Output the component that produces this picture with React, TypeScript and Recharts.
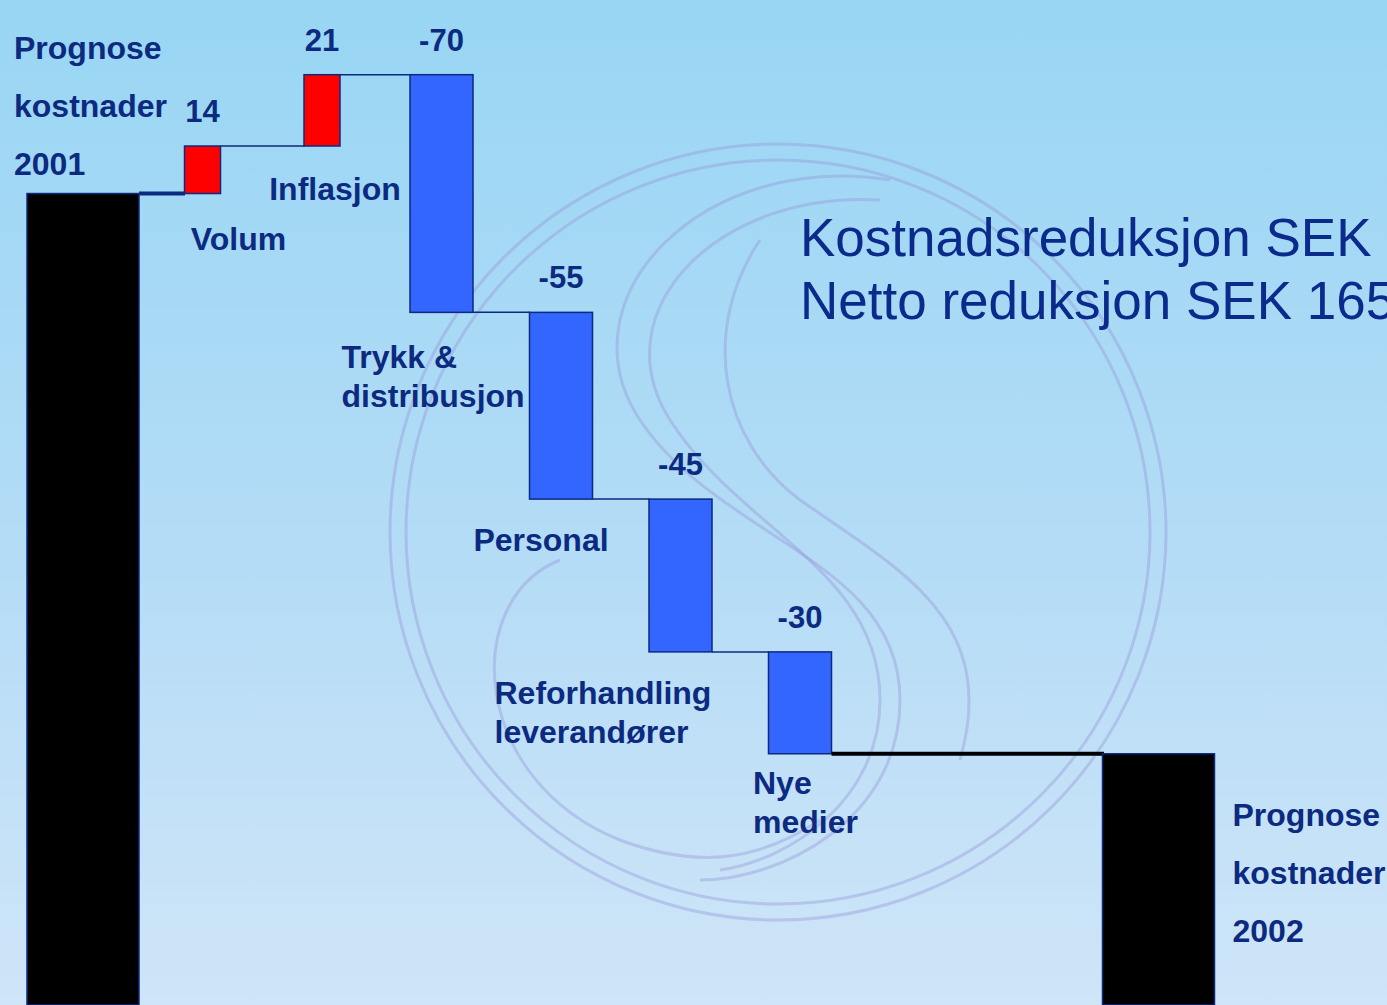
import React from "react";
import { Bar, BarChart, LabelList, XAxis, YAxis } from "recharts";

const colors = {
  navy: "#0b2a80",
  title: "#0a2a8c",
  up: "#ff0000",
  down: "#3366ff",
  total: "#000000",
  ring: "rgba(150, 150, 215, 0.4)",
};

// values
const startTotal = 239; // not printed
const stepNames = [
  "Volum",
  "Inflasjon",
  "Trykk &\ndistribusjon",
  "Personal",
  "Reforhandling\nleverandører",
  "Nye\nmedier",
];
const stepValues = [14, 21, -70, -55, -45, -30];
const totalNames = ["Prognose\nkostnader\n2001", "Prognose\nkostnader\n2002"];
const gapSlots = 2;
const titleLines = ["Kostnadsreduksjon SEK 200", "Netto reduksjon SEK 165"];

type Kind = "total" | "up" | "down" | "gap";
interface Row {
  name: string;
  kind: Kind;
  delta?: number;
  range: [number, number] | null;
}

const rows: Row[] = [];
rows.push({ name: totalNames[0], kind: "total", range: [0, startTotal] });
let level = startTotal;
stepValues.forEach((v, i) => {
  rows.push({
    name: stepNames[i],
    kind: v > 0 ? "up" : "down",
    delta: v,
    range: [Math.min(level, level + v), Math.max(level, level + v)],
  });
  level += v;
});
for (let k = 0; k < gapSlots; k++) rows.push({ name: `gap${k}`, kind: "gap", range: null });
rows.push({ name: totalNames[1], kind: "total", range: [0, level] });

const barWidths: Record<Kind, number> = { total: 112, up: 36, down: 63, gap: 0 };

// where each category caption sits relative to its bar
const captionPlacement: Record<string, { anchor: string; dx: number; from: "top" | "bottom"; dy: number; lineGap: number }> = {
  [totalNames[0]]: { anchor: "start", dx: -69, from: "top", dy: -135, lineGap: 58 },
  [totalNames[1]]: { anchor: "start", dx: 74, from: "top", dy: 72, lineGap: 58 },
  Volum: { anchor: "middle", dx: 36, from: "bottom", dy: 56, lineGap: 39 },
  Inflasjon: { anchor: "middle", dx: 13, from: "bottom", dy: 54, lineGap: 39 },
  "Trykk &\ndistribusjon": { anchor: "start", dx: -100, from: "bottom", dy: 56, lineGap: 39 },
  Personal: { anchor: "middle", dx: -20, from: "bottom", dy: 52, lineGap: 39 },
  "Reforhandling\nleverandører": { anchor: "start", dx: -186, from: "bottom", dy: 52, lineGap: 39 },
  "Nye\nmedier": { anchor: "start", dx: -47, from: "bottom", dy: 40, lineGap: 39 },
};

const font = "'Liberation Sans', Arial, sans-serif";

function WaterfallBar(props: any) {
  const { x, y, width, height, payload } = props;
  if (!payload || payload.kind === "gap" || height == null) return null;
  const index = rows.findIndex((r) => r.name === payload.name);
  const cx = x + width / 2;
  const w = barWidths[payload.kind as Kind];
  let j = index + 1;
  while (j < rows.length && rows[j].kind === "gap") j++;
  let connector = null;
  if (j < rows.length) {
    const next = rows[j];
    const ly = payload.kind === "down" ? y + height : y;
    const thick = payload.kind === "total" || next.kind === "total";
    connector = (
      <line
        x1={cx + w / 2}
        x2={cx + (j - index) * width - barWidths[next.kind] / 2}
        y1={ly}
        y2={ly}
        stroke={next.kind === "total" ? "#000" : colors.navy}
        strokeWidth={thick ? 4 : 1.5}
      />
    );
  }
  return (
    <g>
      <rect
        x={cx - w / 2}
        y={y}
        width={w}
        height={height}
        fill={colors[payload.kind as "total" | "up" | "down"]}
        stroke={colors.navy}
        strokeWidth={1.5}
      />
      {connector}
    </g>
  );
}

function boxOf(props: any) {
  const vb = props.viewBox || {};
  return {
    x: props.x ?? vb.x,
    y: props.y ?? vb.y,
    width: props.width ?? vb.width,
    height: props.height ?? vb.height,
  };
}

function ValueLabel(props: any) {
  const { value } = props;
  if (value == null) return null;
  const b = boxOf(props);
  return (
    <text
      x={b.x + b.width / 2}
      y={b.y - 24}
      textAnchor="middle"
      fill={colors.navy}
      fontFamily={font}
      fontWeight="bold"
      fontSize={31}
    >
      {value}
    </text>
  );
}

function CaptionLabel(props: any) {
  const { value } = props;
  const place = captionPlacement[value];
  if (!place) return null;
  const b = boxOf(props);
  const cx = b.x + b.width / 2;
  const baseY = (place.from === "top" ? b.y : b.y + b.height) + place.dy;
  return (
    <text
      x={cx + place.dx}
      y={baseY}
      textAnchor={place.anchor as any}
      fill={colors.navy}
      fontFamily={font}
      fontWeight="bold"
      fontSize={32}
    >
      {String(value)
        .split("\n")
        .map((line, i) => (
          <tspan key={i} x={cx + place.dx} y={baseY + i * place.lineGap}>
            {line}
          </tspan>
        ))}
    </text>
  );
}

function Watermark() {
  return (
    <svg width={1387} height={1005} style={{ position: "absolute", left: 0, top: 0 }}>
      <g fill="none" stroke={colors.ring} strokeWidth={3}>
        <circle cx={778} cy={532} r={388} />
        <circle cx={778} cy={532} r={372} />
        <path d="M 890 180 C 700 150 560 300 640 420 C 720 540 900 560 900 700 C 900 820 780 880 700 880" />
        <path d="M 880 200 C 720 190 600 310 670 420 C 740 530 880 570 880 700 C 880 800 790 860 720 870" />
        <path d="M 760 240 C 700 330 720 440 800 500 C 900 570 1000 620 960 760" />
        <path d="M 560 560 C 460 600 470 780 620 840 C 700 870 760 860 820 820" />
      </g>
    </svg>
  );
}

export default function App() {
  return (
    <div
      style={{
        position: "absolute",
        left: 0,
        top: 0,
        width: 1387,
        height: 1005,
        overflow: "hidden",
        background: "linear-gradient(to bottom, #98d6f4 0%, #b4dcf6 55%, #cfe5f8 100%)",
      }}
    >
      <Watermark />
      <div style={{ position: "absolute", left: 0, top: 0 }}>
        <BarChart
          width={1387}
          height={1005}
          data={rows}
          margin={{ top: 0, right: 169, bottom: 0, left: 23 }}
          barCategoryGap="0%"
          barGap={0}
        >
          <XAxis dataKey="name" hide />
          <YAxis hide domain={[0, 296]} />
          <Bar dataKey="range" shape={WaterfallBar} isAnimationActive={false}>
            <LabelList dataKey="delta" content={ValueLabel} />
            <LabelList dataKey="name" content={CaptionLabel} />
          </Bar>
          <text fill={colors.title} fontFamily={font} fontSize={53}>
            {titleLines.map((line, i) => (
              <tspan key={i} x={800} y={256 + i * 63}>
                {line}
              </tspan>
            ))}
          </text>
        </BarChart>
      </div>
    </div>
  );
}
